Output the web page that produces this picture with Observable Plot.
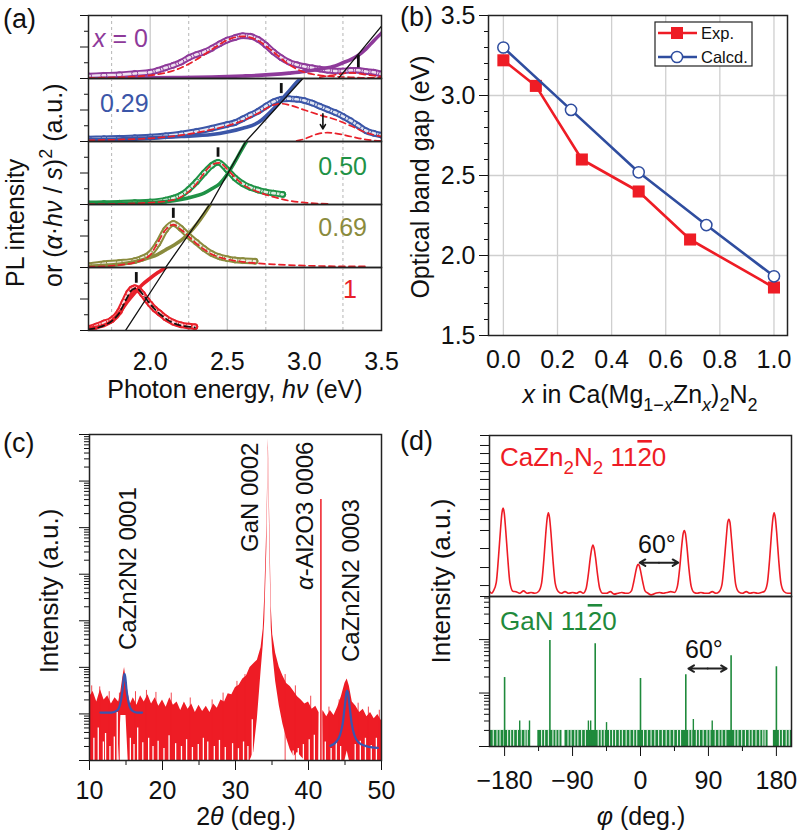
<!DOCTYPE html>
<html><head><meta charset="utf-8">
<script src="https://cdn.jsdelivr.net/npm/d3@7"></script>
<script src="https://cdn.jsdelivr.net/npm/@observablehq/plot@0.6"></script>
<style>
body{margin:0;background:#fff;}
#fig{position:relative;width:800px;height:837px;overflow:hidden;background:#fff;}
</style></head><body><div id="fig"></div>
<script>
// ---------- (a) PL / absorption data (normalised per sub-panel) ----------
const aLabels = ["x = 0", "0.29", "0.50", "0.69", "1"];
const aColors = ["#8e3a9a", "#3b56a8", "#1f9246", "#8a8b3d", "#e8202a"];
const aTicksX = [2.0, 2.5, 3.0, 3.5];
const aGridMajor = [2.0, 2.5, 3.0];
const aGridMinor = [1.75, 2.25, 2.75, 3.25];

const plE_0 = [1.6,1.7,1.8,1.9,2.0,2.05,2.1,2.15,2.2,2.25,2.3,2.35,2.4,2.45,2.5,2.55,2.6,2.65,2.7,2.75,2.8,2.85,2.9,2.95,3.0,3.05,3.1,3.15,3.2,3.25,3.3,3.35,3.4,3.45,3.5];
const plI_0 = [0.04,0.05,0.06,0.08,0.1,0.13,0.17,0.21,0.26,0.33,0.38,0.42,0.48,0.55,0.61,0.65,0.68,0.67,0.62,0.53,0.42,0.33,0.26,0.22,0.19,0.17,0.15,0.13,0.12,0.12,0.13,0.13,0.11,0.1,0.07];
const fitE_0 = [1.6,1.8,2.0,2.1,2.2,2.3,2.4,2.5,2.6,2.7,2.8,2.9,3.0,3.1,3.2,3.3,3.4,3.5];
const fitI_0 = [0.01,0.02,0.05,0.09,0.17,0.3,0.46,0.61,0.67,0.6,0.42,0.22,0.1,0.05,0.03,0.02,0.01,0.01];
const fit2E_0 = [3.1,3.2,3.3,3.4,3.5];
const fit2I_0 = [0.02,0.06,0.09,0.06,0.03];
const absE_0 = [1.6,1.8,2.0,2.2,2.4,2.6,2.7,2.8,2.9,3.0,3.1,3.2,3.25,3.3,3.35,3.4,3.45,3.5];
const absI_0 = [0.0,0.005,0.01,0.015,0.025,0.04,0.05,0.065,0.085,0.11,0.15,0.2,0.25,0.3,0.37,0.47,0.6,0.72];

const plE_1 = [1.6,1.7,1.8,1.9,2.0,2.1,2.2,2.3,2.4,2.5,2.55,2.6,2.65,2.7,2.75,2.8,2.85,2.9,2.95,3.0,3.05,3.1,3.15,3.2,3.25,3.3,3.35,3.4,3.45,3.5];
const plI_1 = [0.04,0.045,0.05,0.06,0.07,0.09,0.12,0.16,0.21,0.27,0.3,0.36,0.42,0.48,0.56,0.63,0.67,0.68,0.67,0.65,0.61,0.56,0.51,0.46,0.4,0.33,0.25,0.17,0.13,0.1];
const fitE_1 = [1.6,1.8,2.0,2.2,2.4,2.5,2.6,2.7,2.8,2.85,2.9,3.0,3.1,3.2,3.3,3.4,3.5];
const fitI_1 = [0.02,0.03,0.05,0.1,0.19,0.25,0.33,0.45,0.58,0.6,0.58,0.5,0.42,0.35,0.25,0.14,0.08];
const fit2E_1 = [2.95,3.0,3.05,3.1,3.15,3.2,3.3,3.4,3.5];
const fit2I_1 = [0.01,0.04,0.09,0.13,0.14,0.13,0.08,0.03,0.01];
const absE_1 = [1.6,1.8,2.0,2.2,2.4,2.5,2.6,2.7,2.75,2.8,2.85,2.9,2.95,3.0];
const absI_1 = [0.03,0.04,0.06,0.08,0.11,0.15,0.21,0.3,0.4,0.52,0.66,0.8,0.94,1.06];

const plE_2 = [1.6,1.7,1.8,1.9,2.0,2.1,2.15,2.2,2.25,2.3,2.35,2.4,2.44,2.5,2.55,2.6,2.65,2.7,2.75,2.8,2.86];
const plI_2 = [0.01,0.015,0.02,0.03,0.04,0.07,0.1,0.15,0.24,0.36,0.5,0.62,0.67,0.55,0.42,0.33,0.27,0.23,0.2,0.18,0.16];
const fitE_2 = [1.6,1.8,2.0,2.1,2.2,2.3,2.35,2.4,2.45,2.5,2.55,2.6,2.7,2.8,2.9,3.0,3.15];
const fitI_2 = [0.005,0.01,0.03,0.05,0.12,0.33,0.5,0.63,0.66,0.56,0.43,0.32,0.2,0.12,0.06,0.03,0.01];
const absE_2 = [1.6,1.8,2.0,2.1,2.2,2.3,2.35,2.4,2.45,2.5,2.55,2.6,2.65];
const absI_2 = [0.015,0.02,0.03,0.045,0.08,0.14,0.18,0.25,0.33,0.48,0.68,0.9,1.1];

const plE_3 = [1.6,1.7,1.8,1.9,1.95,2.0,2.05,2.1,2.15,2.2,2.25,2.3,2.35,2.4,2.45,2.5,2.55,2.6,2.68];
const plI_3 = [0.03,0.06,0.08,0.11,0.15,0.22,0.38,0.6,0.7,0.62,0.5,0.4,0.3,0.22,0.17,0.14,0.12,0.11,0.1];
const fitE_3 = [1.6,1.8,1.9,2.0,2.05,2.1,2.15,2.2,2.3,2.4,2.5,2.6,2.8,3.0,3.2,3.4];
const fitI_3 = [0.01,0.04,0.08,0.2,0.4,0.6,0.68,0.6,0.38,0.21,0.13,0.09,0.05,0.03,0.02,0.02];
const absE_3 = [1.6,1.8,1.9,2.0,2.05,2.1,2.15,2.2,2.25,2.3,2.35,2.4];
const absI_3 = [0.02,0.05,0.09,0.16,0.21,0.28,0.35,0.43,0.54,0.68,0.85,1.04];

const plE_4 = [1.6,1.65,1.7,1.75,1.8,1.83,1.86,1.88,1.9,1.92,1.95,1.98,2.0,2.03,2.06,2.1,2.15,2.2,2.25,2.29];
const plI_4 = [0.03,0.07,0.12,0.17,0.3,0.45,0.6,0.66,0.68,0.66,0.58,0.48,0.42,0.34,0.28,0.2,0.13,0.09,0.07,0.06];
const fitE_4 = [1.6,1.7,1.75,1.8,1.85,1.88,1.91,1.95,2.0,2.05,2.1,2.15,2.2,2.25,2.29];
const fitI_4 = [0.02,0.08,0.15,0.28,0.52,0.64,0.67,0.58,0.42,0.29,0.19,0.12,0.08,0.06,0.05];
const absE_4 = [1.6,1.65,1.7,1.75,1.8,1.85,1.9,1.95,2.0,2.05,2.1,2.12];
const absI_4 = [0.03,0.05,0.08,0.15,0.28,0.45,0.6,0.73,0.83,0.92,1.0,1.04];

const gapLo = [3.22, 2.62, 2.39, 2.10, 1.84];      // tangent intercepts (eV)
const gapHi = [3.557, 2.99, 2.62, 2.386, 2.106];  // tangent reaches panel top
const peakMarkE = [3.35, 2.85, 2.44, 2.15, 1.91];
const markLo = [0.17, 0.76, 0.75, 0.78, 0.75];
const markHi = [0.37, 0.92, 0.90, 0.94, 0.92];
const arrowE = 3.12, arrowFrom = 0.44, arrowTo = 0.2;

// ---------- (b) band gap ----------
const bX_exp = [0, 0.12, 0.29, 0.50, 0.69, 1.0];
const bY_exp = [3.22, 3.06, 2.60, 2.40, 2.10, 1.80];
const bX_calc = [0, 0.25, 0.50, 0.75, 1.0];
const bY_calc = [3.30, 2.91, 2.52, 2.19, 1.87];
const bTicksX = [0, 0.2, 0.4, 0.6, 0.8, 1.0];
const bTicksY = [1.5, 2.0, 2.5, 3.0, 3.5];
const bMinorY = [1.6,1.7,1.8,1.9,2.1,2.2,2.3,2.4,2.6,2.7,2.8,2.9,3.1,3.2,3.3,3.4];
const bGridY = [2.0, 2.5, 3.0];

// ---------- (c) XRD 2theta scan ----------
const xrdT  = [10,10.5,11,11.5,12,12.5,13,13.5,14,14.3,14.6,14.8,15,15.3,15.6,16,16.5,17,17.5,18,18.5,19,19.5,20,20.5,21,21.5,22,22.5,23,23.5,24,24.5,25,25.5,26,26.5,27,27.5,28,28.5,29,29.5,30,30.5,31,31.5,32,32.5,33,33.5,33.8,34,34.3,34.5,34.7,34.9,35.1,35.5,36,36.5,37,37.5,38,38.5,39,39.5,40,40.5,41,41.4,41.45,41.95,42,42.5,43,43.5,44,44.5,45,45.3,45.6,46,46.5,47,47.5,48,48.5,49,49.5,50];
const xrdHi = [23.3,30.2,18,33.5,20,24.5,16.3,22.2,18,30.2,65.5,99,56,27.2,16.3,22.2,15.4,24.5,18,25.9,16.3,22.2,14.7,20,13.9,22.2,15.4,18,11.9,18,12.6,16.3,10.7,15.4,11.3,14.7,10.7,16.3,13.2,20,18,27.2,25.9,37.1,41.1,56,65.5,99,120,142,265,668,3150,120000,8050000,120000,2000,500,200,100,65,45,39,30.2,23.3,20,16.3,18,12.6,14.7,11,10.7,10.7,11.9,8.74,11.9,9.2,13.9,23.3,45.6,56,39.1,18,14.7,10.7,12.6,8.74,10.7,7.9,9.7,7.1];
const xrdLo = [1,1,1,1,1,1,1,1,1,9.2,9.2,9.2,9.2,1,1,1,1,1,1,1,1,1,1,1,1,1,1,1,1,1,1,1,1,1,1,1,1,1,1,1,1,1,1,1,1,1,1,1,1.5,8,80,300,1000,40000,5000000,40000,700,200,50,15,6,3,1.7,1.2,1.5,1.2,1,1,1,1,1,10.7,10.7,1,1,1,1,1,1,1,1.6,1,1,1,1,1,1,1,1,1,1];
const xrdDropX   = [10.6,11.2,11.9,12.2,12.8,13.4,13.8,15.6,16.1,16.6,17.3,18.1,18.7,19.4,20.2,20.9,21.8,22.6,23.3,24.1,24.9,25.6,26.2,27.1,27.8,28.6,29.6,30.4,31.1,31.7,32.3,37.9,38.6,39.3,40.1,40.8,42.3,43.1,43.8,44.4,46.4,47.1,47.8,48.6,49.3];
const xrdDropTop = [3,5,2.5,3.8,2,3.2,10.7,3,2.2,5,2.4,3,2,2.6,1.8,3.4,2.3,2,2.8,1.9,2.2,3,2.5,2,2.7,1.9,2.3,1.8,2.5,2,7.5,1.6,1.8,2.2,2.8,3.5,2.5,1.8,2.4,2,2.2,2.6,3,2.1,3];
const xrdTipX = [10.3,11.4,12.7,14.1,16.3,17.8,19.1,21.2,23.8,26.8,28.3,30.2,31.3,36.8,38.2,40.3,42.8,44.2,46.8,48.2,49.7];
const xrdTipTop = [40,38,30,28,30,32,29,28,22,20,28,50,70,70,40,24,14,20,17,14,12];
const xrdSpikeX = 41.7, xrdSpikeTop = 403000;
const fit1T = [11.5,13,13.8,14.2,14.5,14.7,14.8,14.9,15.1,15.4,15.8,16.5,17.2];
const fit1I = [10.7,10.7,11.9,16.3,30,62,72.6,62,30,16.3,11.9,10.7,10.7];
const fit2T = [43,43.8,44.3,44.7,45,45.2,45.3,45.4,45.6,45.9,46.3,46.9,47.8,49.5];
const fit2I = [2.06,2.53,3.45,6.4,16.3,28.7,31.8,28.7,16.3,6.4,3.45,2.4,2.06,1.86];
const cTicksX = [10, 20, 30, 40, 50];
const cMinorX = [15, 25, 35, 45];
const cDecades = [1,10,100,1e3,1e4,1e5,1e6,1e7];

// ---------- (d) phi scans ----------
const dTopPhi = [-200,-197,-195,-191,-188,-185.5,-183.5,-182,-180.5,-178.5,-176,-173,-169,-165,-160,-155,-150,-145,-140,-135,-131,-128,-125.5,-123.5,-122,-120.5,-118.5,-116,-113,-109,-105,-100,-95,-90,-85,-80,-76,-72,-69,-66.5,-64.5,-63,-61.5,-59.5,-57,-54,-50,-45,-40,-35,-30,-25,-20,-16,-12,-9,-6.5,-4.5,-3,-1.5,0.5,3,6,10,14,20,25,30,35,40,45,49,52,54.5,56.5,58,59.5,61.5,64,67,71,75,80,85,90,95,100,104,108,111,113.5,115.5,117,118.5,120.5,123,126,130,135,140,145,150,155,160,164,168,171,173.5,175.5,177,178.5,180.5,183,186,190,195,200];
const dTopI = [0.03,0.02,0.033,0.088,0.25,0.41,0.52,0.55,0.52,0.41,0.25,0.088,0.033,0.03,0.02,0.035,0.02,0.025,0.02,0.031,0.083,0.23,0.39,0.49,0.52,0.49,0.39,0.23,0.083,0.031,0.02,0.03,0.02,0.025,0.02,0.03,0.02,0.05,0.14,0.24,0.30,0.32,0.30,0.24,0.14,0.05,0.02,0.02,0.03,0.015,0.02,0.025,0.02,0.02,0.035,0.09,0.15,0.19,0.20,0.19,0.15,0.09,0.035,0.02,0.01,0.02,0.025,0.02,0.025,0.03,0.025,0.066,0.18,0.31,0.39,0.41,0.39,0.31,0.18,0.066,0.025,0.02,0.025,0.02,0.02,0.03,0.02,0.029,0.077,0.22,0.36,0.46,0.48,0.46,0.36,0.22,0.077,0.029,0.02,0.03,0.02,0.025,0.02,0.025,0.031,0.083,0.23,0.39,0.49,0.52,0.49,0.39,0.23,0.083,0.031,0.02,0.02];
const dTopTicks = [0,0.068,0.18,0.298,0.41,0.478,0.54,0.602,0.665,0.727,0.776,0.826,0.888,0.938,1];
const dPeakPhi = [-180,-120,-60,0,60,120,180];
const dPeakI = [19.5,96,84,18.7,22,50,31];
const dNoiseStart = [-200,-136,-100,176];
const dNoiseEnd = [-147,-104,169,200];
const dSlitPhi = [-195,-190,-186,-181,-176,-172,-168,-163,-158,-153,-150,-131,-127,-122,-116,-112,-108,-96,-92,-87,-83,-78,-73,-56,-52,-48,-41,-37,-33,-28,-24,-19,-14,-9,-5,4,9,14,19,24,29,34,39,44,49,53,64,68,74,78,83,88,92,99,104,108,113,125,129,134,139,144,148,153,158,162,165,184,188,193,197];
const dSpikePhi = [-160,-147,-69,-66,-45,70,95];
const dSpikeI = [3,3,3,3,2.8,3.2,3];
const dTicksX = [-180,-90,0,90,180];
const dMinorX = [-135,-45,45,135];

// ---------- helpers ----------
const fig = document.getElementById("fig");
const FONT = "'Liberation Sans', Arial, Helvetica, sans-serif";
const baseStyle = `background:transparent;overflow:visible;font-family:${FONT};font-size:25px;color:#111;`;
const blank = () => "";
const pts = (xs, ys) => xs.map((x, i) => ({x, y: ys[i]}));
function place(el, left, top) {
  el.style.position = "absolute"; el.style.left = left + "px"; el.style.top = top + "px";
  fig.appendChild(el);
}
function logMinor(lo, hi, max) {
  const a = [];
  for (let e = lo; e < hi; e++) for (let m = 2; m <= 9; m++) { const v = m * 10 ** e; if (v <= max) a.push(v); }
  return a;
}
const RED = "#e8202a", BLUE = "#2f4d9f", GREEN = "#1f8a3c";

// ---------- panel (a) ----------
const aData = [
  {pl: pts(plE_0, plI_0), fits: [pts(fitE_0, fitI_0), pts(fit2E_0, fit2I_0)], abs: pts(absE_0, absI_0)},
  {pl: pts(plE_1, plI_1), fits: [pts(fitE_1, fitI_1), pts(fit2E_1, fit2I_1)], abs: pts(absE_1, absI_1)},
  {pl: pts(plE_2, plI_2), fits: [pts(fitE_2, fitI_2)], abs: pts(absE_2, absI_2)},
  {pl: pts(plE_3, plI_3), fits: [pts(fitE_3, fitI_3)], abs: pts(absE_3, absI_3)},
  {pl: pts(plE_4, plI_4), fits: [pts(fitE_4, fitI_4)], abs: pts(absE_4, absI_4)}
];
const aTops = [15, 78, 141, 204, 267];
aData.forEach((p, k) => {
  const last = k === 4;
  const col = aColors[k];
  const fitCol = last ? "#111" : RED;
  const marks = [
    Plot.ruleX(aGridMajor, {stroke: "#c6c6c6", strokeWidth: 1.2}),
    Plot.ruleX(aGridMinor, {stroke: "#b5b5b5", strokeWidth: 1, strokeDasharray: "3,3"}),
    Plot.line(p.pl, {x: "x", y: "y", stroke: col, strokeWidth: 6.5, curve: "monotone-x", clip: true}),
    Plot.line(p.pl, {x: "x", y: "y", stroke: "white", strokeWidth: 2.6, strokeOpacity: 0.85, curve: "monotone-x", clip: true}),
    Plot.dot(p.pl, {x: "x", y: "y", r: 3, stroke: col, strokeWidth: 1, fill: "none", clip: true}),
    Plot.line(p.abs, {x: "x", y: "y", stroke: col, strokeWidth: 3.6, curve: "monotone-x", clip: true}),
    ...p.fits.map(f => Plot.line(f, {x: "x", y: "y", stroke: fitCol, strokeWidth: 1.7, strokeDasharray: "6,4", curve: "monotone-x", clip: true})),
    Plot.line([{x: gapLo[k], y: 0}, {x: gapHi[k], y: 1}], {x: "x", y: "y", stroke: "#111", strokeWidth: 1.3, clip: true}),
    Plot.ruleX([peakMarkE[k]], {y1: () => markLo[k], y2: () => markHi[k], stroke: "#111", strokeWidth: 2.8}),
    Plot.axisY({ticks: [0, 0.5, 1], tickSize: 8, tickFormat: blank, label: null}),
    Plot.axisY({ticks: [0.25, 0.75], tickSize: 4, tickFormat: blank, label: null}),
    Plot.frame({stroke: "#222", strokeWidth: 1.5})
  ];
  if (k === 1) marks.push(Plot.arrow([{x1: arrowE, y1: arrowFrom, x2: arrowE, y2: arrowTo}], {x1: "x1", y1: "y1", x2: "x2", y2: "y2", stroke: "#111", strokeWidth: 1.6, headLength: 7}));
  if (last) marks.push(Plot.axisX({ticks: aTicksX, tickSize: 0, tickPadding: 22, tickFormat: d3.format(".1f"), label: null}));
  const svg = Plot.plot({
    width: 400, height: 63 + (last ? 60 : 0),
    marginLeft: 88, marginRight: 19, marginTop: 0, marginBottom: last ? 60 : 0,
    style: baseStyle,
    x: last ? {domain: [1.6, 3.5]} : {domain: [1.6, 3.5], axis: null},
    y: {domain: [0, 1]},
    marks
  });
  place(svg, 0, aTops[k]);
});

// ---------- panel (b) ----------
{
  const exp = pts(bX_exp, bY_exp), calc = pts(bX_calc, bY_calc);
  const svg = Plot.plot({
    width: 400, height: 420, marginLeft: 88, marginRight: 13, marginTop: 15, marginBottom: 85,
    style: baseStyle,
    x: {domain: [-0.055, 1.05]}, y: {domain: [1.5, 3.5]},
    marks: [
      Plot.ruleX(bTicksX, {stroke: "#cfcfcf", strokeWidth: 1.3}),
      Plot.ruleY(bGridY, {stroke: "#cfcfcf", strokeWidth: 1.3}),
      Plot.axisY({ticks: bTicksY, tickSize: 9, tickPadding: 4, tickFormat: d3.format(".1f"), label: null}),
      Plot.axisY({ticks: bMinorY, tickSize: 4, tickFormat: blank, label: null}),
      Plot.axisX({ticks: bTicksX, tickSize: 0, tickPadding: 15, tickFormat: d3.format(".1f"), label: null}),
      Plot.line(exp, {x: "x", y: "y", stroke: "#ee1c25", strokeWidth: 2.6}),
      Plot.dot(exp, {x: "x", y: "y", symbol: "square", r: 6.8, fill: "#ee1c25"}),
      Plot.line(calc, {x: "x", y: "y", stroke: BLUE, strokeWidth: 2.6}),
      Plot.dot(calc, {x: "x", y: "y", r: 5.6, fill: "white", stroke: BLUE, strokeWidth: 1.5}),
      Plot.frame({stroke: "#222", strokeWidth: 1.5})
    ]
  });
  place(svg, 400, 0);
}

// ---------- panel (c) ----------
{
  const band = xrdT.map((t, i) => ({t, lo: xrdLo[i], hi: xrdHi[i]}));
  const drops = xrdDropX.map((x, i) => ({x, top: xrdDropTop[i]}));
  const tips = xrdTipX.map((x, i) => ({x, top: xrdTipTop[i]}));
  const svg = Plot.plot({
    width: 400, height: 400, marginLeft: 89, marginRight: 19, marginTop: 14, marginBottom: 60,
    style: baseStyle,
    x: {domain: [10, 50]}, y: {type: "log", domain: [1, 1e7]},
    marks: [
      Plot.areaY(band, {x: "t", y1: "lo", y2: "hi", fill: "#ee1c25", curve: "linear", clip: true}),
      Plot.ruleX(tips, {x: "x", y1: () => 1, y2: "top", stroke: "#ee1c25", strokeWidth: 1, strokeOpacity: 0.8}),
      Plot.ruleX(drops, {x: "x", y1: () => 1, y2: "top", stroke: "white", strokeWidth: 1.3}),
      Plot.ruleX([xrdSpikeX], {y1: () => 1, y2: () => xrdSpikeTop, stroke: "#ee1c25", strokeWidth: 1.5}),
      Plot.line(pts(fit1T, fit1I), {x: "x", y: "y", stroke: "#3a55b0", strokeWidth: 2.2, curve: "monotone-x"}),
      Plot.line(pts(fit2T, fit2I), {x: "x", y: "y", stroke: "#3a55b0", strokeWidth: 2.2, curve: "monotone-x"}),
      Plot.axisY({ticks: cDecades, tickSize: 10, tickFormat: blank, label: null}),
      Plot.axisY({ticks: logMinor(0, 7, 1e7), tickSize: 5, tickFormat: blank, label: null}),
      Plot.axisX({ticks: cTicksX, tickSize: 10, tickPadding: 11, tickFormat: d => String(d), label: null}),
      Plot.axisX({ticks: cMinorX, tickSize: 5, tickFormat: blank, label: null}),
      Plot.frame({stroke: "#222", strokeWidth: 1.5})
    ]
  });
  place(svg, 0, 420);
}

// ---------- panel (d) top ----------
{
  const svg = Plot.plot({
    width: 400, height: 176, marginLeft: 89, marginRight: 9, marginTop: 15, marginBottom: 0,
    style: baseStyle,
    x: {domain: [-200, 200], axis: null}, y: {domain: [0, 1]},
    marks: [
      Plot.line(pts(dTopPhi, dTopI), {x: "x", y: "y", stroke: "#ee1c25", strokeWidth: 1.6, curve: "monotone-x", clip: true}),
      Plot.arrow([{a: 24.5, b: -1}, {a: 24.5, b: 50}], {x1: "a", x2: "b", y1: () => 0.21, y2: () => 0.21, stroke: "#222", strokeWidth: 2, headLength: 9}),
      Plot.axisY({ticks: dTopTicks, tickSize: 9, tickFormat: blank, label: null}),
      Plot.frame({stroke: "#222", strokeWidth: 1.5})
    ]
  });
  place(svg, 400, 420);
}
// ---------- panel (d) bottom ----------
{
  const noise = dNoiseStart.map((a, i) => ({a, b: dNoiseEnd[i]}));
  const svg = Plot.plot({
    width: 400, height: 210, marginLeft: 89, marginRight: 9, marginTop: 0, marginBottom: 60,
    style: baseStyle,
    x: {domain: [-200, 200]}, y: {type: "log", domain: [1, 640]},
    marks: [
      Plot.rect(noise, {x1: "a", x2: "b", y1: () => 1, y2: () => 2, fill: "#1e8a3c"}),
      Plot.ruleX(dSlitPhi, {y1: () => 1, y2: () => 2.05, stroke: "#e9f4ec", strokeWidth: 1.1}),
      Plot.ruleX(pts(dSpikePhi, dSpikeI), {x: "x", y1: () => 1, y2: "y", stroke: GREEN, strokeWidth: 1.4}),
      Plot.ruleX(pts(dPeakPhi, dPeakI), {x: "x", y1: () => 1, y2: "y", stroke: GREEN, strokeWidth: 1.6}),
      Plot.arrow([{a: 89, b: 63.5}, {a: 89, b: 114}], {x1: "a", x2: "b", y1: () => 28.7, y2: () => 28.7, stroke: "#222", strokeWidth: 2, headLength: 9}),
      Plot.axisY({ticks: [1, 10, 100], tickSize: 10, tickFormat: blank, label: null}),
      Plot.axisY({ticks: logMinor(0, 3, 640), tickSize: 5, tickFormat: blank, label: null}),
      Plot.axisX({ticks: dTicksX, tickSize: 10, tickPadding: 15, tickFormat: d => d < 0 ? "\u2212" + (-d) : String(d), label: null}),
      Plot.axisX({ticks: dMinorX, tickSize: 5, tickFormat: blank, label: null}),
      Plot.frame({stroke: "#222", strokeWidth: 1.5})
    ]
  });
  place(svg, 400, 596);
}

// ---------- text overlay ----------
const ov = d3.create("svg").attr("width", 800).attr("height", 837)
  .style("position", "absolute").style("left", "0").style("top", "0")
  .style("overflow", "visible").style("pointer-events", "none")
  .attr("font-family", FONT).style("white-space", "pre");
function rich(x, y, parts, o = {}) {
  const size = o.size || 25;
  const t = ov.append("text").attr("x", x).attr("y", y).attr("font-size", size)
    .attr("fill", o.fill || "#111").attr("text-anchor", o.anchor || "start");
  if (o.rotate) t.attr("transform", `rotate(-90 ${x} ${y})`);
  let shift = 0;
  for (const p of parts) {
    const s = typeof p === "string" ? {t: p} : p;
    const span = t.append("tspan").text(s.t);
    const target = s.sub ? size * 0.3 : s.sup ? -size * 0.4 : 0;
    if (target !== shift) { span.attr("dy", target - shift); shift = target; }
    if (s.sub || s.sup) span.attr("font-size", size * 0.72);
    if (s.it) span.attr("font-style", "italic");
    if (s.over) span.style("text-decoration", "overline");
  }
  return t;
}
rich(3, 28, ["(a)"], {size: 27});
rich(400, 26, ["(b)"], {size: 27});
rich(3, 452, ["(c)"], {size: 27});
rich(400, 450, ["(d)"], {size: 27});

rich(93, 47, [{t: "x", it: true}, " = 0"], {fill: aColors[0]});
rich(100, 112, [aLabels[1]], {fill: aColors[1]});
rich(367, 175, [aLabels[2]], {fill: aColors[2], anchor: "end"});
rich(367, 236, [aLabels[3]], {fill: aColors[3], anchor: "end"});
rich(357, 298, [aLabels[4]], {fill: aColors[4], anchor: "end"});
rich(24, 287, ["PL intensity"], {rotate: true});
rich(62, 287, ["or (", {t: "\u03b1", it: true}, "\u00b7", {t: "h\u03bd", it: true}, " / ", {t: "s", it: true}, ")", {t: "2", sup: true}, " (a.u.)"], {rotate: true});
rich(235, 398, ["Photon energy,  ", {t: "h\u03bd", it: true}, " (eV)"], {anchor: "middle"});

rich(429, 177, ["Optical band gap (eV)"], {rotate: true, anchor: "middle"});
rich(640, 403, [{t: "x", it: true}, " in Ca(Mg", {t: "1\u2212", sub: true}, {t: "x", sub: true, it: true}, "Zn", {t: "x", sub: true, it: true}, ")", {t: "2", sub: true}, "N", {t: "2", sub: true}], {anchor: "middle"});
// legend (b)
ov.append("rect").attr("x", 655).attr("y", 22).attr("width", 97).attr("height", 44).attr("fill", "white").attr("stroke", "#222").attr("stroke-width", 1.2);
ov.append("line").attr("x1", 658).attr("x2", 697).attr("y1", 33).attr("y2", 33).attr("stroke", "#ee1c25").attr("stroke-width", 2.6);
ov.append("rect").attr("x", 671).attr("y", 27).attr("width", 12).attr("height", 12).attr("fill", "#ee1c25");
ov.append("line").attr("x1", 658).attr("x2", 697).attr("y1", 57).attr("y2", 57).attr("stroke", BLUE).attr("stroke-width", 2.6);
ov.append("circle").attr("cx", 677).attr("cy", 57).attr("r", 5.6).attr("fill", "white").attr("stroke", BLUE).attr("stroke-width", 1.5);
rich(701, 39, ["Exp."], {size: 16.5});
rich(701, 63, ["Calcd."], {size: 16.5});

rich(58, 591, ["Intensity (a.u.)"], {rotate: true, anchor: "middle", size: 26});
rich(246, 825, ["2", {t: "\u03b8", it: true}, " (deg.)"], {anchor: "middle"});
rich(136, 650, ["CaZn2N2 0001"], {rotate: true, size: 24});
rich(258, 552, ["GaN 0002"], {rotate: true, size: 24});
rich(313, 590, [{t: "\u03b1", it: true}, "-Al2O3 0006"], {rotate: true, size: 24});
rich(359, 662, ["CaZn2N2 0003"], {rotate: true, size: 24});

rich(450, 581, ["Intensity (a.u.)"], {rotate: true, anchor: "middle", size: 26});
rich(641, 825, [{t: "\u03c6", it: true}, " (deg.)"], {anchor: "middle"});
rich(500, 466, ["CaZn", {t: "2", sub: true}, "N", {t: "2", sub: true}, " 11", {t: "2", over: true}, "0"], {fill: "#ee1c25", size: 26});
rich(500, 630, ["GaN 11", {t: "2", over: true}, "0"], {fill: GREEN, size: 26});
rich(638, 553, ["60\u00b0"], {size: 25});
rich(685, 658, ["60\u00b0"], {size: 25});
fig.appendChild(ov.node());
</script></body></html>
